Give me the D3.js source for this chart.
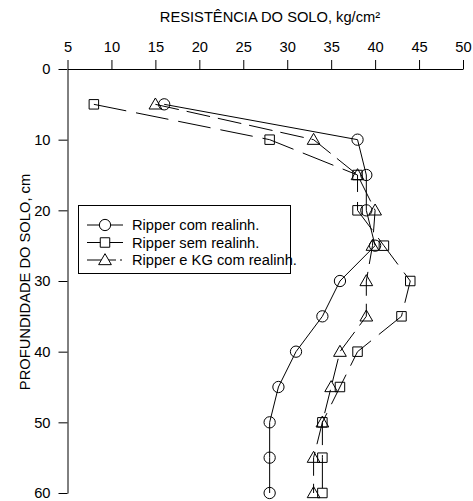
<!DOCTYPE html>
<html>
<head>
<meta charset="utf-8">
<script src="https://cdn.jsdelivr.net/npm/d3@7"></script>
<style>
  body { margin: 0; background: #fff; }
  svg { font-family: "Liberation Sans", Arial, sans-serif; }
</style>
</head>
<body>
<svg id="chart" width="473" height="501"></svg>
<script>
// Soil penetration resistance (kg/cm²) by depth (cm) for three tillage treatments
const depths = [5, 10, 15, 20, 25, 30, 35, 40, 45, 50, 55, 60];
const ripperComRealinh = [16, 38, 39, 39, 40, 36, 34, 31, 29, 28, 28, 28];
const ripperSemRealinh = [8, 28, 38, 38, 41, 44, 43, 38, 36, 34, 34, 34];
const ripperKgComRealinh = [15, 33, 38, 40, 39.7, 39, 39, 36, 35, 34, 33, 33];
const xTicks = [5, 10, 15, 20, 25, 30, 35, 40, 45, 50];
const yTicks = [0, 10, 20, 30, 40, 50, 60];
const seriesNames = ["Ripper com realinh.", "Ripper sem realinh.", "Ripper e KG com realinh."];

const FS = 14.7;
const svg = d3.select("#chart");
const x = d3.scaleLinear().domain([5, 50]).range([67.5, 463]);
const y = d3.scaleLinear().domain([0, 60]).range([69, 493]);

// top axis
const xAxis = d3.axisTop(x).tickValues(xTicks).tickSize(9).tickSizeOuter(0).tickPadding(8);
const gx = svg.append("g").attr("transform", `translate(0,${y(0)})`).call(xAxis);
gx.select(".domain").attr("stroke", "#000");
gx.selectAll("text").attr("font-size", FS).attr("fill", "#000");

// left axis
const yAxis = d3.axisLeft(y).tickValues(yTicks).tickSize(9).tickSizeOuter(0).tickPadding(8);
const gy = svg.append("g").attr("transform", `translate(${x(5)},0)`).call(yAxis);
gy.select(".domain").attr("stroke", "#000");
gy.selectAll("text").attr("font-size", FS).attr("fill", "#000");

svg.append("text").attr("x", 270).attr("y", 22).attr("text-anchor", "middle")
  .attr("font-size", FS).text("RESISTÊNCIA DO SOLO, kg/cm²");
svg.append("text").attr("transform", `translate(30,282) rotate(-90)`)
  .attr("text-anchor", "middle").attr("font-size", FS).text("PROFUNDIDADE DO SOLO, cm");

const series = [
  { name: seriesNames[0], values: ripperComRealinh, dash: null, shape: "circle" },
  { name: seriesNames[1], values: ripperSemRealinh, dash: "33,10", shape: "square" },
  { name: seriesNames[2], values: ripperKgComRealinh, dash: "24,8", shape: "triangle" }
];

const symbolGen = {
  circle: d3.symbol().type(d3.symbolCircle).size(100),
  square: d3.symbol().type(d3.symbolSquare).size(90),
  triangle: d3.symbol().type(d3.symbolTriangle).size(70)
};

const line = d3.line().x(d => x(d[0])).y(d => y(d[1]));

series.forEach(s => {
  const pts = depths.map((d, i) => [s.values[i], d]);
  svg.append("path").datum(pts).attr("d", line)
    .attr("fill", "none").attr("stroke", "#000").attr("stroke-width", 1)
    .attr("stroke-dasharray", s.dash);
  svg.append("g").selectAll("path").data(pts).join("path")
    .attr("d", symbolGen[s.shape])
    .attr("transform", d => `translate(${x(d[0])},${y(d[1]) + (s.shape === "triangle" ? 1 : 0)})`)
    .attr("fill", "none").attr("stroke", "#000").attr("stroke-width", 1);
});

// legend
const lg = svg.append("g");
lg.append("rect").attr("x", 78.5).attr("y", 205.5).attr("width", 212).attr("height", 68)
  .attr("fill", "#fff").attr("stroke", "#000").attr("stroke-width", 1);
series.forEach((s, i) => {
  const yy = 225 + i * 17.5;
  lg.append("line").attr("x1", 87).attr("x2", s.shape === "triangle" ? 116 : 123).attr("y1", yy).attr("y2", yy)
    .attr("stroke", "#000");
  if (s.shape === "triangle") {
    lg.append("line").attr("x1", 120).attr("x2", 122).attr("y1", yy).attr("y2", yy).attr("stroke", "#000");
  }
  lg.append("path").attr("d", symbolGen[s.shape])
    .attr("transform", `translate(105,${yy + (s.shape === "triangle" ? 1 : 0)})`)
    .attr("fill", "#fff").attr("stroke", "#000");
  lg.append("text").attr("x", 132).attr("y", yy + 5).attr("font-size", FS).text(s.name);
});
</script>
</body>
</html>
